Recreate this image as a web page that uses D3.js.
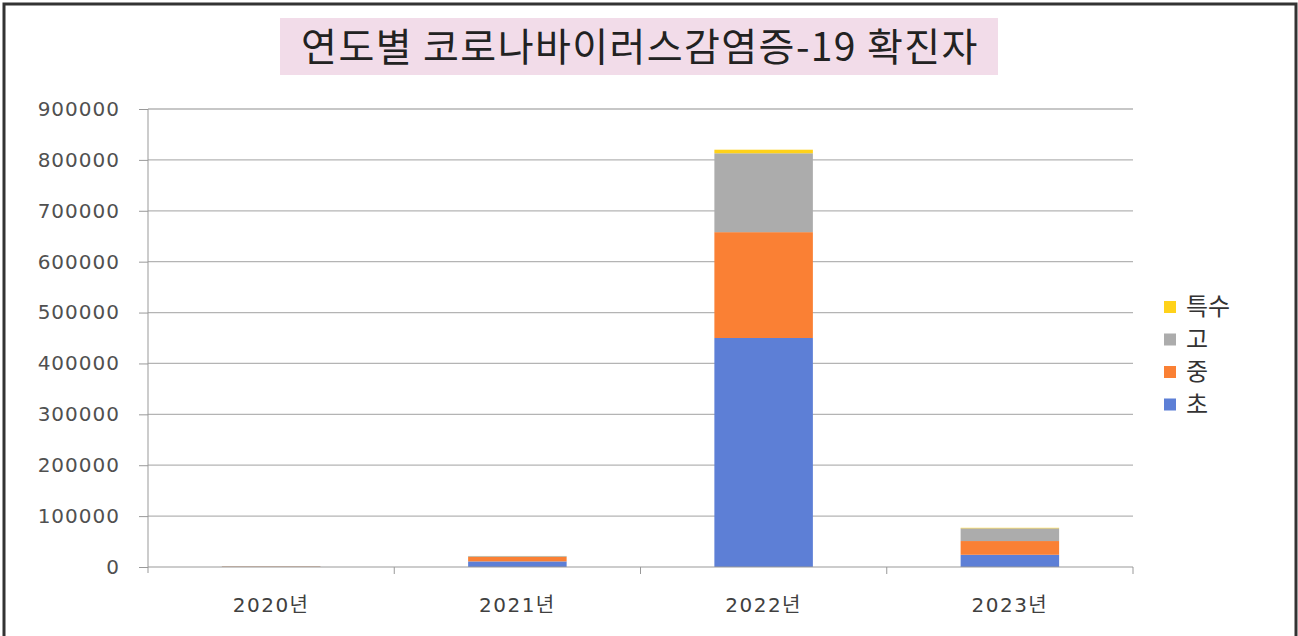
<!DOCTYPE html>
<html>
<head>
<meta charset="utf-8">
<script src="https://cdn.jsdelivr.net/npm/d3@7"></script>
<style>
  html, body { margin: 0; padding: 0; background: #fff; overflow: hidden; }
  svg { display: block; }
  text { font-family: "Noto Sans CJK KR", "Noto Sans", sans-serif; }
</style>
</head>
<body>
<div id="chart"></div>
<script>
// data
var years = ["2020년", "2021년", "2022년", "2023년"];
var seriesNames = ["초", "중", "고", "특수"];
var elementary = [400, 11000, 450000, 24000];
var middle = [700, 9000, 208000, 27000];
var high = [500, 1500, 155000, 25000];
var special = [100, 200, 7000, 1000];
var yTicks = [0, 100000, 200000, 300000, 400000, 500000, 600000, 700000, 800000, 900000];
var colors = ["#5d7fd6", "#fa8034", "#acacac", "#ffd21a"];

var width = 1298, height = 636;
var margin = { top: 109, right: 165, bottom: 69, left: 148 };
var innerWidth = width - margin.left - margin.right,
    innerHeight = height - margin.top - margin.bottom;

var rows = years.map(function(y, i) {
    return { year: y, "초": elementary[i], "중": middle[i], "고": high[i], "특수": special[i] };
});
var stacked = d3.stack().keys(seriesNames)(rows);

var svg = d3.select("#chart").append("svg")
    .attr("width", width)
    .attr("height", height);

// frame
svg.append("path")
    .attr("d", "M4,636 V4 H1296 V636")
    .attr("fill", "none")
    .attr("stroke", "#333")
    .attr("stroke-width", 3);

// title
svg.append("rect")
    .attr("x", 280).attr("y", 18)
    .attr("width", 718).attr("height", 57)
    .attr("fill", "#f2dce9");
svg.append("text")
    .attr("x", 640).attr("y", 61)
    .attr("text-anchor", "middle")
    .style("font-size", "39px")
    .style("letter-spacing", "1.4px")
    .attr("fill", "#222")
    .text("연도별 코로나바이러스감염증-19 확진자");

var g = svg.append("g")
    .attr("transform", "translate(" + margin.left + "," + margin.top + ")");

var xScale = d3.scaleBand().domain(years).range([0, innerWidth]).paddingInner(0.6).paddingOuter(0.3);
var xBand = d3.scaleBand().domain(years).range([0, innerWidth]);
var yScale = d3.scaleLinear().domain([0, 900000]).range([innerHeight, 0]);

// gridlines
g.selectAll(".grid").data(yTicks.slice(1))
    .enter().append("line")
    .attr("class", "grid")
    .attr("x1", 0).attr("x2", innerWidth)
    .attr("y1", yScale).attr("y2", yScale)
    .attr("stroke", "#b4b4b4")
    .attr("stroke-width", 1.3);

// bars
g.selectAll(".series").data(stacked)
    .enter().append("g")
    .attr("class", "series")
    .attr("fill", function(d, i) { return colors[i]; })
    .selectAll("rect").data(function(d) { return d; })
    .enter().append("rect")
    .attr("x", function(d) { return xScale(d.data.year); })
    .attr("width", xScale.bandwidth())
    .attr("y", function(d) { return yScale(d[1]); })
    .attr("height", function(d) { return yScale(d[0]) - yScale(d[1]); });

// y axis
var yAxis = g.append("g")
    .call(d3.axisLeft(yScale).tickValues(yTicks).tickSize(9).tickPadding(19).tickFormat(d3.format("d")));
yAxis.selectAll("line, path").attr("stroke", "#999");
yAxis.select(".domain").attr("d", "M0," + (innerHeight + 6) + "V0");
yAxis.selectAll("text")
    .style("font-family", "'DejaVu Sans', sans-serif")
    .style("font-size", "20px")
    .style("letter-spacing", "1px")
    .attr("fill", "#505050");

// x axis
var xAxis = g.append("g")
    .attr("transform", "translate(0," + innerHeight + ")")
    .call(d3.axisBottom(xBand).tickSize(0).tickPadding(31));
xAxis.select(".domain").attr("stroke", "#999").attr("d", "M0,0H" + innerWidth);
xAxis.selectAll("text")
    .style("font-family", "'DejaVu Sans', 'Noto Sans CJK KR', sans-serif")
    .style("font-size", "20px")
    .style("letter-spacing", "1.5px")
    .attr("fill", "#404040");
xAxis.selectAll(".sep").data(years.slice(1).concat(["end"]))
    .enter().append("line")
    .attr("class", "sep")
    .attr("x1", function(d, i) { return (i + 1) * xBand.step(); })
    .attr("x2", function(d, i) { return (i + 1) * xBand.step(); })
    .attr("y1", 0).attr("y2", 7)
    .attr("stroke", "#999");

// legend
var legend = svg.append("g").attr("transform", "translate(1164,296)");
var legendItems = seriesNames.slice().reverse();
var item = legend.selectAll(".item").data(legendItems)
    .enter().append("g")
    .attr("class", "item")
    .attr("transform", function(d, i) { return "translate(0," + (i * 32.5) + ")"; });
item.append("rect")
    .attr("y", 5)
    .attr("width", 12).attr("height", 12)
    .attr("fill", function(d) { return colors[seriesNames.indexOf(d)]; });
item.append("text")
    .attr("x", 22).attr("y", 19)
    .style("font-size", "24px")
    .attr("fill", "#333")
    .text(function(d) { return d; });
</script>
</body>
</html>
